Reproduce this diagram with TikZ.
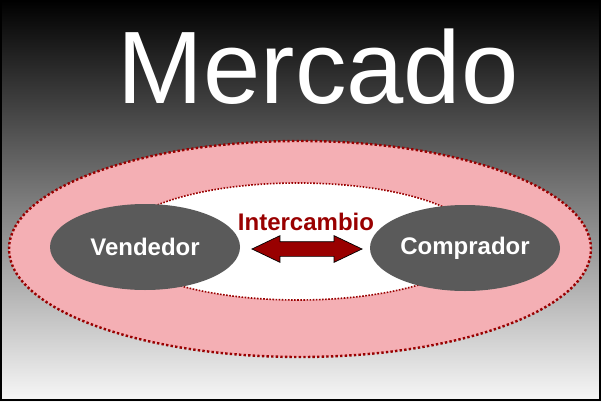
\documentclass[tikz,border=0pt]{standalone}
\usepackage{fontspec}
\setmainfont{Liberation Sans}
\usetikzlibrary{shapes.geometric,shapes.arrows}
\definecolor{pinkfill}{HTML}{F4AFB4}
\definecolor{darkred}{HTML}{990000}
\definecolor{greyfill}{HTML}{5A5A5A}
\tikzset{
  ring/.style={ellipse, inner sep=0pt, fill=pinkfill, draw=darkred,
    line width=2.4pt, dash pattern=on 2.4pt off 2.2pt},
  core/.style={ellipse, inner sep=0pt, fill=white, draw=darkred,
    line width=1.6pt, dash pattern=on 1.6pt off 1.5pt},
  party/.style={ellipse, inner sep=0pt, fill=greyfill, draw=none,
    text=white, font=\bfseries\fontsize{24}{28}\selectfont,
    minimum width=190pt, minimum height=86pt},
  label/.style={text=darkred, font=\bfseries\fontsize{24}{28}\selectfont, inner sep=0pt},
  title/.style={text=white, font=\fontsize{103}{110}\selectfont, inner sep=0pt},
  swap/.style={double arrow, draw=black, line width=0.7pt, fill=darkred,
    inner xsep=0pt, inner ysep=7pt, minimum height=110pt,
    double arrow head extend=6pt, double arrow tip angle=51}
}
\begin{document}
\begin{tikzpicture}[x=1pt,y=-1pt]
  \useasboundingbox (0,0) rectangle (601,401);
  \shade[top color=black, bottom color=white!97!black] (0,0) rectangle (601,401);
  \draw[black, line width=2pt] (1,1) rectangle (600,400);
  \node[ring, minimum width=582pt, minimum height=216pt] (market) at (300,249) {};
  \node[core, minimum width=360pt, minimum height=117pt] (exchange) at (298,241.5) {};
  \node[party] (seller) at (145,247) {Vendedor};
  \node[party] (buyer) at (465,248) {Comprador};
  \node[label, anchor=base] (inter) at (306,230) {Intercambio};
  \node[swap] (arrow) at (307,249) {};
  \node[title, anchor=base] (head) at (318,103) {Mercado};
\end{tikzpicture}
\end{document}
